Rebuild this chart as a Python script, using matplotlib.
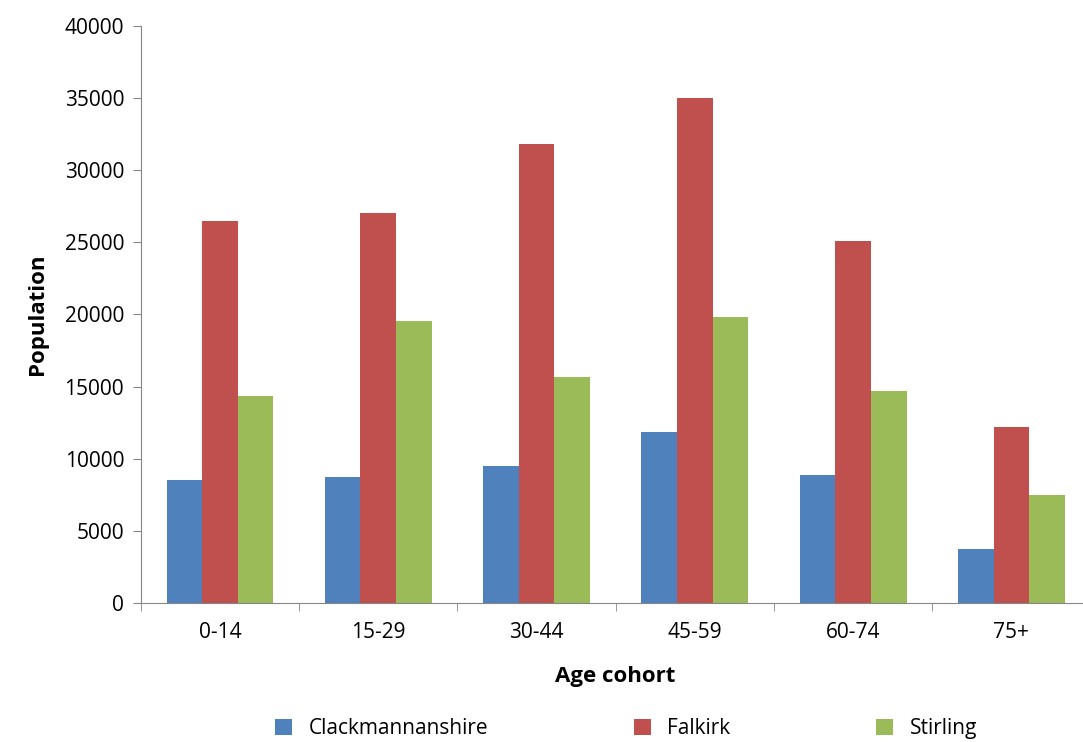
import matplotlib.pyplot as plt
import numpy as np

plt.rcParams['font.family'] = ['Open Sans', 'DejaVu Sans']

cohorts = ['0-14', '15-29', '30-44', '45-59', '60-74', '75+']
clack = [8500, 8750, 9500, 11850, 8870, 3750]
falkirk = [26500, 27000, 31800, 35000, 25100, 12200]
stirling = [14350, 19550, 15670, 19800, 14700, 7500]

fig = plt.figure(figsize=(10.83, 7.42), dpi=100)
ax = fig.add_axes([0.130, 0.1873, 0.877, 0.778])

x = np.arange(len(cohorts))
w = 0.225
ax.bar(x - w, clack, w, color='#4F81BD', label='Clackmannanshire')
ax.bar(x, falkirk, w, color='#C0504D', label='Falkirk')
ax.bar(x + w, stirling, w, color='#9BBB59', label='Stirling')

ax.set_xlim(-0.5, len(cohorts) - 0.5)
ax.set_ylim(0, 40000)
ax.set_yticks(range(0, 40001, 5000))
ax.set_xticks(x)
ax.set_xticklabels(cohorts)
ax.set_xticks(np.arange(-0.5, len(cohorts)), minor=True)
ax.tick_params(axis='x', which='major', length=0, pad=14, labelsize=15)
ax.tick_params(axis='x', which='minor', length=6, color='#868686', direction='out')
ax.tick_params(axis='y', length=6, color='#868686', labelsize=15, pad=6)
for s in ['top', 'right']:
    ax.spines[s].set_visible(False)
for s in ['left', 'bottom']:
    ax.spines[s].set_color('#868686')

ax.set_xlabel('Age cohort', fontsize=16, fontweight='bold', labelpad=16)
ax.set_ylabel('Population', fontsize=16, fontweight='bold', labelpad=12)

fig.legend(loc='center', bbox_to_anchor=(0.578, 0.018), ncol=3, frameon=False,
           fontsize=15, columnspacing=7, handlelength=0.8, handleheight=0.8,
           borderpad=0)

plt.savefig('out.png')
